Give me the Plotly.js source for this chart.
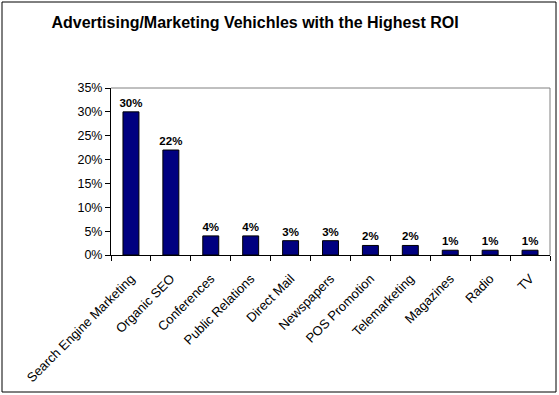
<!DOCTYPE html>
<html><head><meta charset="utf-8">
<script src="https://cdn.plot.ly/plotly-3.0.1.min.js"></script>
<style>html,body{margin:0;padding:0;background:#fff}#chart{width:559px;height:395px}</style>
</head><body><div id="chart"></div>
<script>
const categories = ["Search Engine Marketing","Organic SEO","Conferences","Public Relations","Direct Mail","Newspapers","POS Promotion","Telemarketing","Magazines","Radio","TV"];
const values = [30,22,4,4,3,3,2,2,1,1,1];
const yTicks = [0,5,10,15,20,25,30,35];
const yTickLabels = yTicks.map(v => v + "%");

const trace = {
  type: "bar", x: categories, y: values,
  marker: {color: "#000080", line: {color: "#000000", width: 1}},
  width: 0.4,
  text: values.map(v => v + "%"), textposition: "outside", cliponaxis: false, constraintext: "none",
  textfont: {family: "Arial, Liberation Sans", size: 11.5, color: "#000", weight: "bold"},
  hoverinfo: "none"
};
const layout = {
  width: 559, height: 395,
  margin: {l: 111, r: 9, t: 88, b: 140},
  paper_bgcolor: "#fff", plot_bgcolor: "#fff",
  showlegend: false,
  title: {text: "<b>Advertising/Marketing Vehichles with the Highest ROI</b>", x: 255/559, xanchor: "center", y: 1 - 22/395, yanchor: "middle",
          font: {family: "Arial, Liberation Sans", size: 16, color: "#000"}},
  xaxis: {type: "category", showgrid: false, showline: true, linecolor: "#000", linewidth: 1,
          ticks: "outside", tickson: "boundaries", ticklen: 5, tickcolor: "#000", tickangle: -45,
          ticklabelstandoff: 10,
          tickfont: {family: "Arial, Liberation Sans", size: 13, color: "#000"}, fixedrange: true},
  yaxis: {range: [0, 35], tickvals: yTicks, ticktext: yTickLabels, showgrid: false, zeroline: false,
          showline: true, linecolor: "#000", linewidth: 1, ticks: "outside", ticklen: 5, tickcolor: "#000",
          tickfont: {family: "Arial, Liberation Sans", size: 12.5, color: "#000"}, fixedrange: true},
  bargap: 0.6,
  shapes: [
    {type: "rect", xref: "paper", yref: "paper", x0: -109/439, x1: 1 + 6/439, y0: -137/167, y1: 1 + 86/167,
     line: {color: "#000", width: 1}},
    {type: "line", xref: "paper", yref: "paper", x0: 0, x1: 1, y0: 1, y1: 1, line: {color: "#808080", width: 1}},
    {type: "line", xref: "paper", yref: "paper", x0: 1, x1: 1, y0: 0, y1: 1, line: {color: "#808080", width: 1}}
  ]
};
Plotly.newPlot("chart", [trace], layout, {displayModeBar: false, staticPlot: true});
</script></body></html>
